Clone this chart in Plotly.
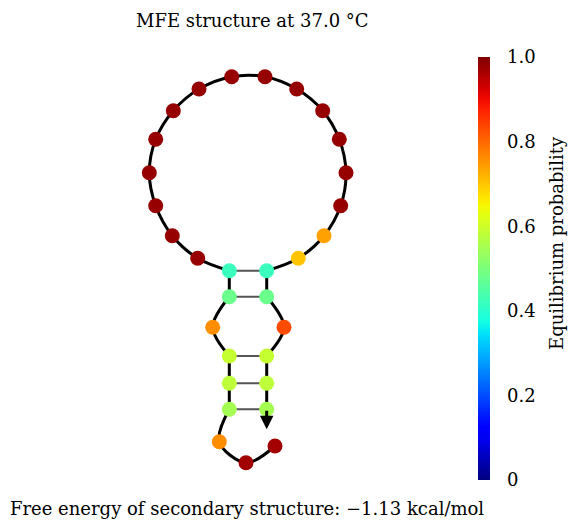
import numpy as np
import plotly.graph_objects as go

# ---- data: nucleotide layout coordinates (drawing units) and equilibrium probabilities ----
node_x = [275.0, 246.0, 219.3, 229.3, 229.3, 229.3, 212.7, 229.3, 229.3,
          197.7, 172.3, 155.7, 149.3, 155.7, 173.3, 199.0, 231.7, 265.0,
          296.7, 322.7, 339.3, 346.0, 340.7, 324.0, 298.3,
          266.7, 266.7, 284.0, 266.7, 266.7, 266.7]
node_y = [446.0, 462.7, 441.7, 409.3, 383.3, 356.0, 327.3, 296.7, 270.7,
          258.3, 235.7, 205.7, 172.7, 139.3, 110.7, 89.0, 76.7, 76.7,
          89.0, 110.7, 139.3, 172.7, 205.7, 235.7, 258.3,
          270.7, 296.7, 327.3, 356.0, 383.3, 409.3]
prob = [0.97, 0.97, 0.76, 0.55, 0.58, 0.59, 0.76, 0.48, 0.42,
        0.98, 0.98, 0.98, 0.98, 0.98, 0.98, 0.98, 0.98, 0.98,
        0.98, 0.98, 0.98, 0.98, 0.98, 0.74, 0.70,
        0.42, 0.48, 0.83, 0.59, 0.58, 0.55]
pairs = [(3, 30), (4, 29), (5, 28), (7, 26), (8, 25)]
# backbone segments: (kind, first index, last index)
segments = [("curve", 0, 3), ("line", 3, 5), ("curve", 5, 7), ("line", 7, 8),
            ("curve", 8, 25), ("line", 25, 26), ("curve", 26, 28), ("line", 28, 30)]
cbar_ticks = [0, 0.2, 0.4, 0.6, 0.8, 1.0]
cbar_ticktext = ["0", "0.2", "0.4", "0.6", "0.8", "1.0"]
title_text = "MFE structure at 37.0 °C"
energy_text = "Free energy of secondary structure: −1.13 kcal/mol"
cbar_title = "Equilibrium probability"

# ---- matplotlib-like jet colorscale ----
def jet(v):
    r = np.interp(v, [0, 0.35, 0.66, 0.89, 1], [0, 0, 1, 1, 0.5])
    g = np.interp(v, [0, 0.125, 0.375, 0.64, 0.91, 1], [0, 0, 1, 1, 0, 0])
    b = np.interp(v, [0, 0.11, 0.34, 0.65, 1], [0.5, 1, 1, 0, 0])
    return "rgb(%d,%d,%d)" % (round(r * 255), round(g * 255), round(b * 255))

stops = np.linspace(0, 1, 41)
jet_scale = [[float(s), jet(s)] for s in stops]

FONT = "DejaVu Serif"
FS = 18
W_PLOT = 460
H = 521
fig = go.Figure()

# base pairs
for i, j in pairs:
    fig.add_trace(go.Scatter(x=[node_x[i], node_x[j]], y=[node_y[i], node_y[j]],
                             mode="lines", line=dict(color="#555555", width=2),
                             hoverinfo="skip", showlegend=False))
# backbone
for kind, a, b in segments:
    fig.add_trace(go.Scatter(x=node_x[a:b + 1], y=node_y[a:b + 1], mode="lines",
                             line=dict(color="black", width=3,
                                       shape="spline" if kind == "curve" else "linear",
                                       smoothing=1.0),
                             hoverinfo="skip", showlegend=False))
# nucleotides
fig.add_trace(go.Scatter(
    x=node_x, y=node_y, mode="markers",
    marker=dict(size=15, color=prob, colorscale=jet_scale, cmin=0, cmax=1,
                line=dict(width=0),
                colorbar=dict(thickness=12, lenmode="pixels", len=423,
                              x=478 / W_PLOT, xanchor="left", xpad=0,
                              y=1 - 268.5 / H, yanchor="middle", ypad=0,
                              outlinewidth=0, ticks="outside", ticklen=14,
                              tickcolor="rgba(0,0,0,0)", tickvals=cbar_ticks,
                              ticktext=cbar_ticktext,
                              tickfont=dict(family=FONT, size=FS, color="black"))),
    showlegend=False))

# 3' end arrow
fig.add_annotation(x=node_x[30], y=node_y[30] + 20, ax=node_x[30], ay=node_y[30],
                   xref="x", yref="y", axref="x", ayref="y", text="",
                   showarrow=True, arrowhead=2, arrowsize=0.9, arrowwidth=3,
                   arrowcolor="black")

fig.add_annotation(x=252, y=20, xref="x", yref="y", text=title_text, showarrow=False,
                   font=dict(family=FONT, size=FS, color="black"))
fig.add_annotation(x=8, y=508, xref="x", yref="y", text=energy_text, showarrow=False,
                   xanchor="left", font=dict(family=FONT, size=FS, color="black"))
fig.add_annotation(x=556 / W_PLOT, y=1 - 243 / H, xref="paper", yref="paper",
                   text=cbar_title, showarrow=False, textangle=-90,
                   xanchor="center", yanchor="middle", borderpad=0,
                   font=dict(family=FONT, size=FS, color="black"))

fig.update_layout(
    width=569, height=H, margin=dict(l=0, r=569 - W_PLOT, t=0, b=0),
    paper_bgcolor="white", plot_bgcolor="white",
    xaxis=dict(range=[0, W_PLOT], visible=False, fixedrange=True),
    yaxis=dict(range=[H, 0], visible=False, fixedrange=True),
)
fig.write_html("out.html")
